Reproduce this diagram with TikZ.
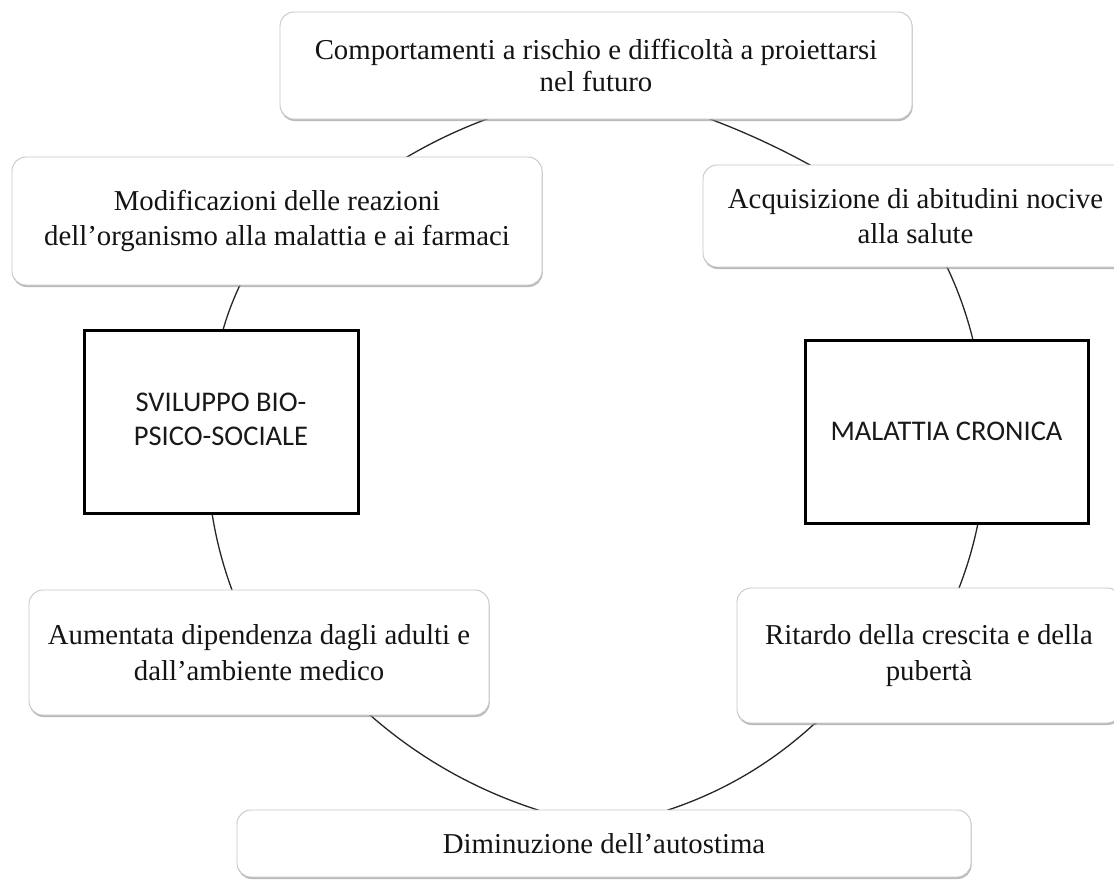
\documentclass[tikz,border=0pt]{standalone}
\usepackage{fontspec}
\setmainfont{Liberation Serif}
\newfontfamily\calibfont{Carlito}
\usetikzlibrary{shadows,backgrounds}

\begin{document}
\begin{tikzpicture}[x=1pt,y=-1pt,
  softbox/.style={draw=black!22, line width=0.9pt, fill=white,
    rounded corners=14pt, inner sep=0pt, align=center, text=black!92,
    font=\fontsize{28.8}{35.5}\selectfont,
    drop shadow={shadow xshift=0.6pt, shadow yshift=-2pt,
                 fill=black!45, opacity=0.6}},
  corebox/.style={draw=black, line width=3pt, fill=white, inner sep=0pt,
    align=center, text=black!90, font=\calibfont\fontsize{28.5}{34}\selectfont},
  link/.style={draw=black!85, line width=1.3pt}
]
\useasboundingbox (0,0) rectangle (1114,879);

% outer ring of effects
\node[softbox, minimum width=632pt, minimum height=107pt,
      font=\fontsize{28.8}{31.5}\selectfont] (top) at (596,65.5)
  {Comportamenti a rischio e difficoltà a proiettarsi\\nel futuro};
\node[softbox, minimum width=530pt, minimum height=128pt] (modif) at (277,221)
  {Modificazioni delle reazioni\\dell’organismo alla malattia e ai farmaci};
\node[softbox, minimum width=425pt, minimum height=102pt] (acq) at (915.5,216)
  {Acquisizione di abitudini nocive\\alla salute};
\node[softbox, minimum width=460pt, minimum height=125pt] (aum) at (259,652.5)
  {Aumentata dipendenza dagli adulti e\\dall’ambiente medico};
\node[softbox, minimum width=384pt, minimum height=135pt] (rit) at (929,655.5)
  {Ritardo della crescita e della\\pubertà};
\node[softbox, minimum width=734pt, minimum height=67pt] (dim) at (604,843.5)
  {Diminuzione dell’autostima};

% the two core boxes
\node[corebox, minimum width=274pt, minimum height=183pt] (svil) at (221,421.5)
  {\raisebox{-4pt}{\begin{tabular}{@{}c@{}}SVILUPPO BIO-\\[-0.5pt]PSICO-SOCIALE\end{tabular}}};
\node[corebox, minimum width=283pt, minimum height=183pt] (mal) at (946.5,431.5)
  {\raisebox{-4pt}{MALATTIA CRONICA}};

\begin{pgfonlayer}{background}
  \fill[white] (0,0) rectangle (1114,879);
  % ring connectors, running behind the boxes
  \draw[link] (top.center) -- (487,119)
    .. controls (459.2,129.3) and (432.6,141.9) .. (407,157) -- (modif.center);
  \draw[link] (modif.center) -- (240,285)
    .. controls (233.1,299.5) and (227.4,314.5) .. (223,330) -- (svil.center);
  \draw[link] (svil.center) -- (212,513)
    .. controls (216.1,539.4) and (222.8,565.0) .. (232,590) -- (aum.center);
  \draw[link] (aum.center) -- (370,715)
    .. controls (419.4,758.3) and (475.4,789.9) .. (538,810) -- (dim.center);
  \draw[link] (dim.center) -- (668,810)
    .. controls (722.4,792.0) and (770.7,763.7) .. (813,725) -- (rit.center);
  \draw[link] (rit.center) -- (959,588)
    .. controls (967.2,566.9) and (973.6,545.2) .. (978,523) -- (mal.center);
  \draw[link] (mal.center) -- (973,340)
    .. controls (966.8,314.8) and (958.2,290.4) .. (947,267) -- (acq.center);
  \draw[link] (acq.center) -- (810,165)
    .. controls (777.8,147.3) and (744.4,131.9) .. (710,119) -- (top.center);
\end{pgfonlayer}
\end{tikzpicture}
\end{document}
